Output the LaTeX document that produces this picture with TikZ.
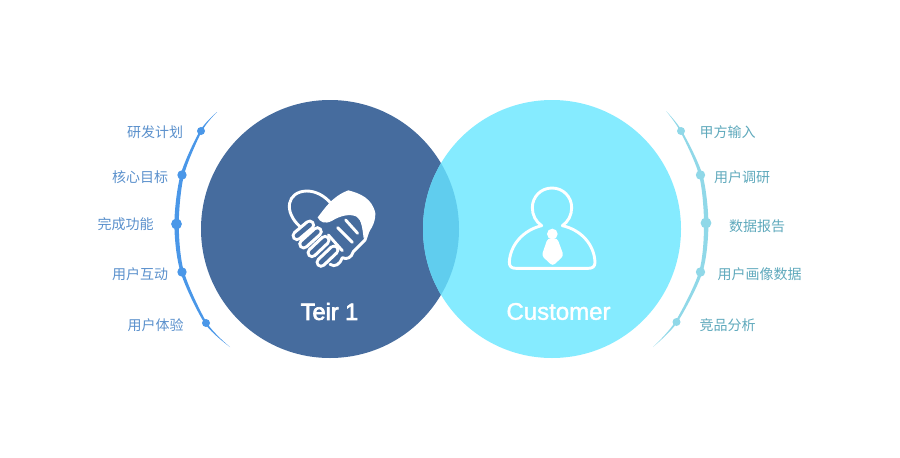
\documentclass[tikz,border=0pt]{standalone}
\usepackage{fontspec}
\setmainfont{Liberation Sans}
\newfontfamily\cjk{Noto Sans CJK SC}
\newfontfamily\namefont[FakeBold=3]{Liberation Sans}
\newfontfamily\softfont[FakeBold=1.5]{Liberation Sans}
\definecolor{teirblue}{HTML}{466C9E}
\definecolor{custblue}{HTML}{85EBFF}
\definecolor{lensblue}{HTML}{60CDEE}
\definecolor{leftarc}{HTML}{4A97E8}
\definecolor{rightarc}{HTML}{90D8E8}
\definecolor{lefttext}{HTML}{5A90CC}
\definecolor{righttext}{HTML}{5FA9BC}
\tikzset{
	lefttag/.style = {text=lefttext, font=\cjk\fontsize{14}{14}\selectfont, inner sep=0pt},
	righttag/.style = {text=righttext, font=\cjk\fontsize{14}{14}\selectfont, inner sep=0pt},
	bigname/.style = {text=white, inner sep=0pt},
	iconline/.style = {draw=white, line width=2.9pt, line join=round, line cap=round}
}
\begin{document}
\begin{tikzpicture}[x = 1pt, y = -1pt]
	\useasboundingbox (0,0) rectangle (900,458);
	
	% the two circles and their overlap
	\fill[teirblue] (330,229) circle (129);
	\fill[custblue] (552,229) circle (129);
	\begin{scope}
		\clip (330,229) circle (129);
		\fill[lensblue] (552,229) circle (129);
	\end{scope}
	
	% left crescent
	\fill[leftarc] plot[smooth] coordinates {(217,112) (199.8,131) (180.5,175) (174.4,224) (180.5,272) (204.5,323) (230,347)}
		-- plot[smooth] coordinates {(230,347) (207,323) (184,272) (178.8,224) (184,175) (202,131) (217,112)} -- cycle;
	\fill[leftarc] (201,131) circle (4);
	\fill[leftarc] (182,175) circle (4.7);
	\fill[leftarc] (176.5,224) circle (5.4);
	\fill[leftarc] (182,272) circle (4.7);
	\fill[leftarc] (206,323) circle (4);
	
	% right crescent
	\fill[rightarc] plot[smooth] coordinates {(666,111) (682,131) (702.5,175) (708.4,224) (702.5,272) (677.5,322) (653,347)}
		-- plot[smooth] coordinates {(653,347) (675,322) (699,272) (704,224) (699,175) (680,131) (666,111)} -- cycle;
	\fill[rightarc] (681,131) circle (4);
	\fill[rightarc] (700.5,175) circle (4.7);
	\fill[rightarc] (706,223) circle (5.4);
	\fill[rightarc] (700.5,272) circle (4.7);
	\fill[rightarc] (676.5,322) circle (4);
	
	\node[lefttag] (plan) at (155,132) {研发计划};
	\node[lefttag] (goal) at (140,177) {核心目标};
	\node[lefttag] (feature) at (125.5,224.5) {完成功能};
	\node[lefttag] (interact) at (140,274.5) {用户互动};
	\node[lefttag] (experience) at (155.5,325) {用户体验};
	
	\node[righttag] (input) at (727.5,132) {甲方输入};
	\node[righttag] (research) at (742,177) {用户调研};
	\node[righttag] (report) at (757,226) {数据报告};
	\node[righttag] (portrait) at (759.5,274.5) {用户画像数据};
	\node[righttag] (compete) at (727.5,325) {竞品分析};
	
	\node[bigname, font=\namefont\fontsize{23.5}{24}\selectfont] (teir) at (329.5,311.5) {Teir 1};
	\node[bigname, font=\softfont\fontsize{24}{24}\selectfont] (customer) at (558.5,311.5) {Customer};
	
	% handshake heart
	\begin{scope}[shift={(285,185)}, scale=1/3]
		\draw[iconline] (45,125) .. controls (-5,80) and (5,20) .. (65,18) .. controls (95,18) and (120,35) .. (135,52);
		\fill[white] (98,97) .. controls (120,70) and (140,35) .. (190,16) .. controls (225,25) and (262,40) .. (271,85)
			.. controls (272,115) and (255,140) .. (236,160) .. controls (232,130) and (230,105) .. (215,95)
			.. controls (195,85) and (165,92) .. (140,108) .. controls (120,118) and (105,112) .. (98,97) -- cycle;
		\draw[iconline] (250,135) -- (240,165) -- (205,200) .. controls (200,218) and (185,225) .. (172,218)
			.. controls (165,238) and (150,248) .. (135,238);
		\draw[iconline] (182,105) -- (218,145);
		\draw[iconline] (158,128) -- (202,172);
		\draw[iconline] (130,150) -- (172,197);
		\foreach \fx/\fy/\gx/\gy in {36/152/74/120, 56/177/97/140, 81/203/120/166, 108/232/147/195}
			\draw[white, line cap=round, line width=11pt] (\fx,\fy) -- (\gx,\gy);
		\foreach \fx/\fy/\gx/\gy in {36/152/74/120, 56/177/97/140, 81/203/120/166, 108/232/147/195}
			\draw[teirblue, line cap=round, line width=4.6pt] (\fx,\fy) -- (\gx,\gy);
	\end{scope}
	
	% person with a tie
	\begin{scope}[shift={(505,185)}, scale=1/3]
		\draw[iconline] (110,122) .. controls (92,110) and (82,90) .. (82,68) .. controls (82,35) and (108,9) .. (141,9)
			.. controls (174,9) and (200,35) .. (200,68) .. controls (200,90) and (190,110) .. (172,122)
			.. controls (230,135) and (268,180) .. (270,232) .. controls (270,245) and (262,250) .. (250,250)
			-- (33,250) .. controls (20,250) and (13,245) .. (13,232) .. controls (15,180) and (55,135) .. (110,122) -- cycle;
		\fill[white] (142,147) circle (16);
		\fill[white, rounded corners=3pt] (128,160) -- (157,160) -- (176,212) -- (143,243) -- (110,212) -- cycle;
	\end{scope}
\end{tikzpicture}
\end{document}
